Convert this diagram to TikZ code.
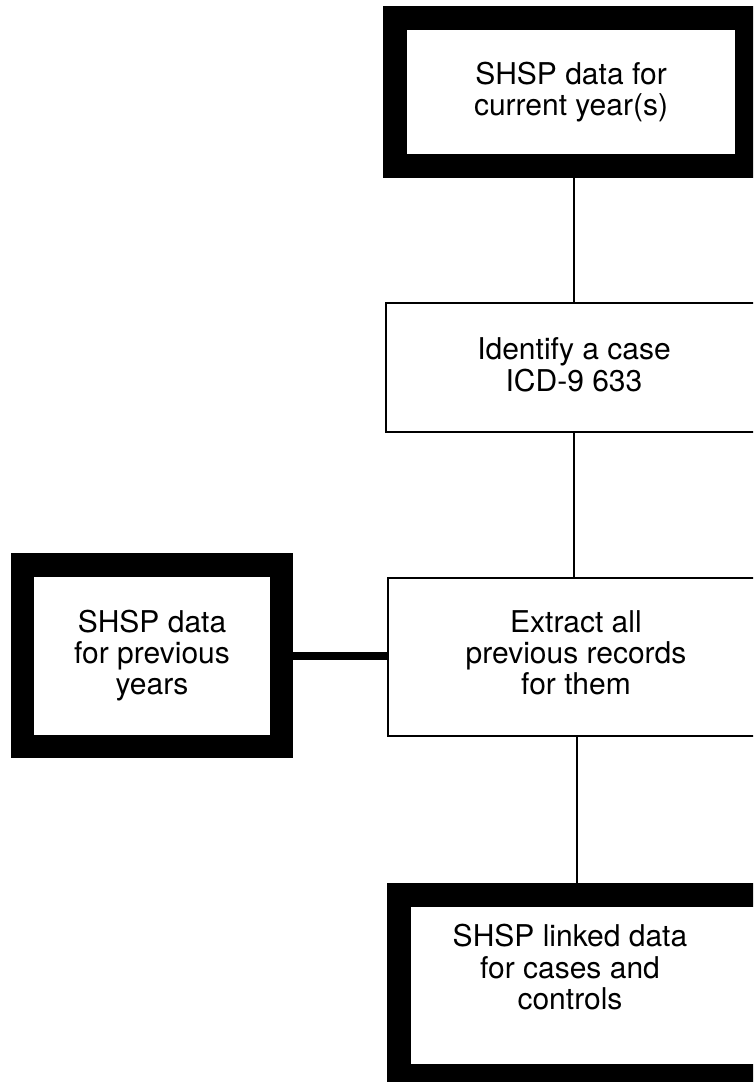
\documentclass[tikz,border=0pt]{standalone}
\usepackage{fontspec}
\setmainfont{TeX Gyre Heros}
\begin{document}
\begin{tikzpicture}[x=1pt,y=-1pt,
  every node/.style={align=center,font=\fontsize{30}{31}\selectfont,inner sep=0pt},
  heavybox/.style={draw,line width=23.5pt},
  thinbox/.style={draw,line width=2.5pt},
  conn/.style={line width=2pt},
  heavyconn/.style={line width=8pt}]
\clip (0,0) rectangle (753,1082);
\fill[white] (0,0) rectangle (753,1082);
\node[heavybox,minimum width=352pt,minimum height=148pt] (top) at (571,92) {SHSP data for\\current year(s)};
\node[thinbox,minimum width=400pt,minimum height=129pt] (id) at (586,367.5) {\begin{tabular}{@{}c@{}}\\[-27pt]Identify a case\\ICD-9 633\end{tabular}\hspace{24pt}};
\node[thinbox,minimum width=400pt,minimum height=158pt] (ex) at (588,657) {\begin{tabular}{@{}c@{}}Extract all\\previous records\\for them\end{tabular}\hspace{24pt}};
\node[heavybox,minimum width=259pt,minimum height=181.5pt] (prev) at (152,655.5) {SHSP data\\for previous\\years};
\node[heavybox,minimum width=381pt,minimum height=181pt] (bot) at (589.5,985.5) {\begin{tabular}{@{}c@{}}SHSP linked data\\for cases and\\controls\\[28pt]\end{tabular}\hspace{39pt}};
\coordinate (l1) at (574,0);
\coordinate (l3) at (577,0);
\draw[conn] (l1 |- id.north) -- (l1 |- top.south);
\draw[conn] (l1 |- id.south) -- (l1 |- ex.north);
\draw[conn] (l3 |- ex.south) -- (l3 |- bot.north);
\draw[heavyconn] (prev.east) -- (prev.east -| ex.west);
\end{tikzpicture}
\end{document}
